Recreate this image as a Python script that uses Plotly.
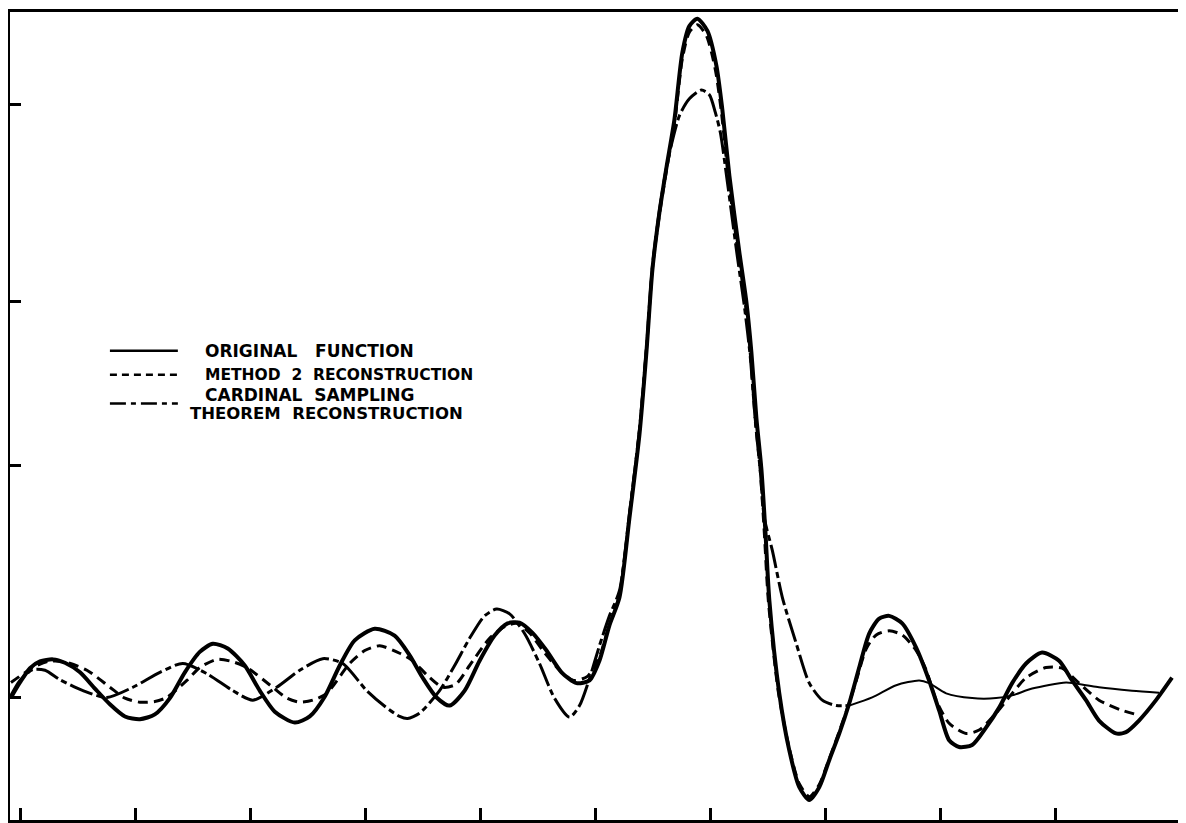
import plotly.graph_objects as go

# ---------------- data (x in tick units, y in normalized amplitude) ----------------
orig_x = [-0.087, -0.009, 0.078, 0.165, 0.278, 0.382, 0.513, 0.643, 0.773, 0.904, 1.034, 1.164, 1.295,
          1.425, 1.555, 1.668, 1.798, 1.946, 2.076, 2.207, 2.381, 2.511, 2.641, 2.772, 2.902, 3.076,
          3.249, 3.380, 3.493, 3.614, 3.727, 3.858, 3.988, 4.118, 4.231, 4.335, 4.448, 4.570, 4.700,
          4.831, 4.944, 5.030, 5.117, 5.204, 5.291, 5.378, 5.439, 5.491, 5.552, 5.613, 5.682, 5.751,
          5.812, 5.882, 5.969, 6.047, 6.099, 6.160, 6.247, 6.308, 6.351, 6.395, 6.438, 6.473, 6.508,
          6.594, 6.681, 6.768, 6.855, 6.942, 7.029, 7.116, 7.202, 7.289, 7.376, 7.463, 7.550, 7.663,
          7.785, 7.897, 7.984, 8.071, 8.158, 8.271, 8.393, 8.506, 8.619, 8.740, 8.879, 9.027, 9.140,
          9.261, 9.374, 9.522, 9.609, 9.722, 9.870, 10.009]
orig_y = [0.000, 0.022, 0.043, 0.053, 0.056, 0.051, 0.037, 0.013, -0.010, -0.028, -0.032, -0.025, -0.001,
          0.037, 0.067, 0.079, 0.072, 0.047, 0.010, -0.021, -0.037, -0.028, 0.001, 0.047, 0.084, 0.101,
          0.091, 0.062, 0.029, 0.000, -0.012, 0.010, 0.054, 0.091, 0.109, 0.110, 0.095, 0.069, 0.037,
          0.021, 0.025, 0.054, 0.106, 0.147, 0.264, 0.387, 0.509, 0.630, 0.714, 0.780, 0.850, 0.949,
          0.988, 0.999, 0.981, 0.930, 0.865, 0.768, 0.655, 0.582, 0.509, 0.411, 0.337, 0.245, 0.142,
          0.006, -0.078, -0.132, -0.151, -0.132, -0.092, -0.053, -0.009, 0.044, 0.094, 0.116, 0.120, 0.109,
          0.073, 0.025, -0.019, -0.063, -0.073, -0.070, -0.044, -0.015, 0.021, 0.050, 0.066, 0.054, 0.025,
          -0.004, -0.034, -0.053, -0.051, -0.034, -0.004, 0.029]

meth2_x = [-0.087, 0.104, 0.235, 0.365, 0.573, 0.773, 0.904, 1.034, 1.164, 1.268, 1.442, 1.555, 1.703,
           1.833, 1.964, 2.189, 2.311, 2.424, 2.537, 2.659, 2.858, 2.989, 3.119, 3.293, 3.406, 3.536,
           3.666, 3.779, 3.901, 4.075, 4.205, 4.309, 4.422, 4.552, 4.683, 4.805, 4.926, 5.030, 5.117,
           5.204, 5.291, 5.378, 5.439, 5.491, 5.552, 5.613, 5.682, 5.751, 5.812, 5.882, 5.960, 6.038,
           6.091, 6.151, 6.238, 6.299, 6.342, 6.386, 6.429, 6.464, 6.499, 6.586, 6.681, 6.768, 6.855,
           6.942, 7.029, 7.116, 7.202, 7.264, 7.351, 7.437, 7.550, 7.663, 7.785, 7.872, 7.958, 8.071,
           8.219, 8.332, 8.480, 8.619, 8.740, 8.914, 9.053, 9.201, 9.374, 9.574, 9.722]
meth2_y = [0.022, 0.044, 0.053, 0.053, 0.040, 0.015, -0.001, -0.007, -0.006, 0.000, 0.025, 0.044, 0.056,
           0.053, 0.044, 0.015, -0.001, -0.007, -0.004, 0.006, 0.050, 0.069, 0.076, 0.065, 0.054, 0.032,
           0.015, 0.019, 0.047, 0.087, 0.104, 0.109, 0.095, 0.066, 0.040, 0.025, 0.031, 0.060, 0.107,
           0.151, 0.267, 0.392, 0.512, 0.632, 0.711, 0.776, 0.843, 0.940, 0.979, 0.990, 0.974, 0.924,
           0.861, 0.765, 0.652, 0.579, 0.506, 0.408, 0.333, 0.242, 0.142, 0.008, -0.075, -0.127, -0.146,
           -0.128, -0.090, -0.050, -0.008, 0.025, 0.072, 0.092, 0.098, 0.092, 0.069, 0.040, -0.004, -0.038,
           -0.053, -0.048, -0.023, 0.006, 0.029, 0.044, 0.043, 0.021, -0.004, -0.019, -0.026]

card_x = [-0.087, -0.009, 0.104, 0.209, 0.339, 0.539, 0.747, 0.973, 1.208, 1.407, 1.616, 1.842, 2.016,
          2.224, 2.424, 2.624, 2.798, 3.006, 3.163, 3.293, 3.362, 3.467, 3.640, 3.771, 3.901, 4.031,
          4.136, 4.249, 4.379, 4.509, 4.639, 4.770, 4.857, 4.944, 5.030, 5.117, 5.204, 5.291, 5.378,
          5.439, 5.491, 5.552, 5.621, 5.725, 5.812, 5.917, 5.986, 6.038, 6.082, 6.143, 6.230, 6.291,
          6.342, 6.386, 6.429, 6.464, 6.534, 6.621, 6.742, 6.855, 6.968, 7.090, 7.202,
          7.402, 7.611, 7.811, 7.897, 8.045, 8.271, 8.480, 8.619, 8.793, 9.088, 9.261, 9.374, 9.661, 9.896]
card_y = [0.003, 0.025, 0.041, 0.040, 0.026, 0.010, 0.000, 0.015, 0.037, 0.050, 0.035, 0.010, -0.004,
          0.015, 0.040, 0.057, 0.050, 0.010, -0.013, -0.028, -0.031, -0.023, 0.010, 0.047, 0.087, 0.120,
          0.130, 0.123, 0.094, 0.050, -0.001, -0.029, -0.012, 0.028, 0.076, 0.120, 0.157, 0.271, 0.394,
          0.515, 0.635, 0.717, 0.787, 0.856, 0.881, 0.894, 0.887, 0.861, 0.831, 0.758, 0.648, 0.575,
          0.501, 0.406, 0.333, 0.264, 0.216, 0.147, 0.079, 0.021, -0.004, -0.012, -0.012,
          0.000, 0.018, 0.025, 0.021, 0.006, -0.001, -0.001, 0.003, 0.013, 0.022, 0.018, 0.015, 0.010, 0.007]

x_tick_vals = [0, 1, 2, 3, 4, 5, 6, 7, 8, 9]
y_tick_vals = [0.0, 0.3416, 0.5821, 0.8724]

series_names = ["ORIGINAL  FUNCTION", "METHOD 2 RECONSTRUCTION",
                "CARDINAL  SAMPLING<br>THEOREM  RECONSTRUCTION"]

INK = "#000000"
split = card_x.index(7.202)

fig = go.Figure()
fig.add_trace(go.Scatter(x=orig_x, y=orig_y, mode="lines", name=series_names[0],
                         line=dict(color=INK, width=4, shape="spline", smoothing=0.7)))
fig.add_trace(go.Scatter(x=meth2_x, y=meth2_y, mode="lines", name=series_names[1],
                         line=dict(color=INK, width=3, dash="10px,6px", shape="spline", smoothing=0.7)))
fig.add_trace(go.Scatter(x=card_x[:split + 1], y=card_y[:split + 1], mode="lines", name=series_names[2],
                         line=dict(color=INK, width=3, dash="24px,4px,6px,4px", shape="spline", smoothing=0.7)))
fig.add_trace(go.Scatter(x=card_x[split:], y=card_y[split:], mode="lines", name=series_names[2],
                         showlegend=False,
                         line=dict(color=INK, width=2, shape="spline", smoothing=0.7)))

# The page body adds an 8px margin, so the figure is sized to fill the rest of the window.
OFF = 8
W, H = 1186 - OFF, 823 - OFF
L, R, T, B = 2, 3, 1, 3
pw, ph = W - L - R, H - T - B


def px(xp):  # window pixel -> paper x
    return (xp - OFF - L) / pw


def py(yp):  # window pixel -> paper y
    return (OFF + T + ph - yp) / ph


key_lines = [
    dict(y=349, dash="solid", width=2.5),
    dict(y=373, dash="7px,5px", width=2.5),
    dict(y=402, dash="16px,5px,5px,5px", width=2.5),
]
shapes = []
for k in key_lines:
    shapes.append(dict(type="line", xref="paper", yref="paper",
                       x0=px(110), x1=px(178), y0=py(k["y"]), y1=py(k["y"]),
                       line=dict(color=INK, width=k["width"], dash=k["dash"])))

key_text = [
    ("ORIGINAL   FUNCTION", 203, 349, 17),
    ("METHOD  2  RECONSTRUCTION", 203, 373, 15.5),
    ("CARDINAL  SAMPLING", 203, 393, 17),
    ("THEOREM  RECONSTRUCTION", 188, 412, 16.5),
]
annotations = []
for txt, xp, yp, fs in key_text:
    annotations.append(dict(text=txt, xref="paper", yref="paper", x=px(xp), y=py(yp),
                            xanchor="left", yanchor="middle", showarrow=False,
                            font=dict(family="DejaVu Sans", size=fs, color=INK, weight="bold")))

fig.update_layout(
    width=W, height=H,
    margin=dict(l=L, r=R, t=T, b=B, pad=0),
    paper_bgcolor="white", plot_bgcolor="white",
    showlegend=False,
    shapes=shapes, annotations=annotations,
    xaxis=dict(range=[-0.0956, 10.096], showgrid=False, zeroline=False,
               showline=True, mirror=True, linecolor=INK, linewidth=3,
               ticks="inside", tickvals=x_tick_vals, ticklen=12, tickwidth=3, tickcolor=INK,
               showticklabels=False, fixedrange=True),
    yaxis=dict(range=[-0.1804, 1.0088], showgrid=False, zeroline=False,
               showline=True, mirror=True, linecolor=INK, linewidth=3,
               ticks="inside", tickvals=y_tick_vals, ticklen=11, tickwidth=3, tickcolor=INK,
               showticklabels=False, fixedrange=True),
)

fig.write_html("out.html")
